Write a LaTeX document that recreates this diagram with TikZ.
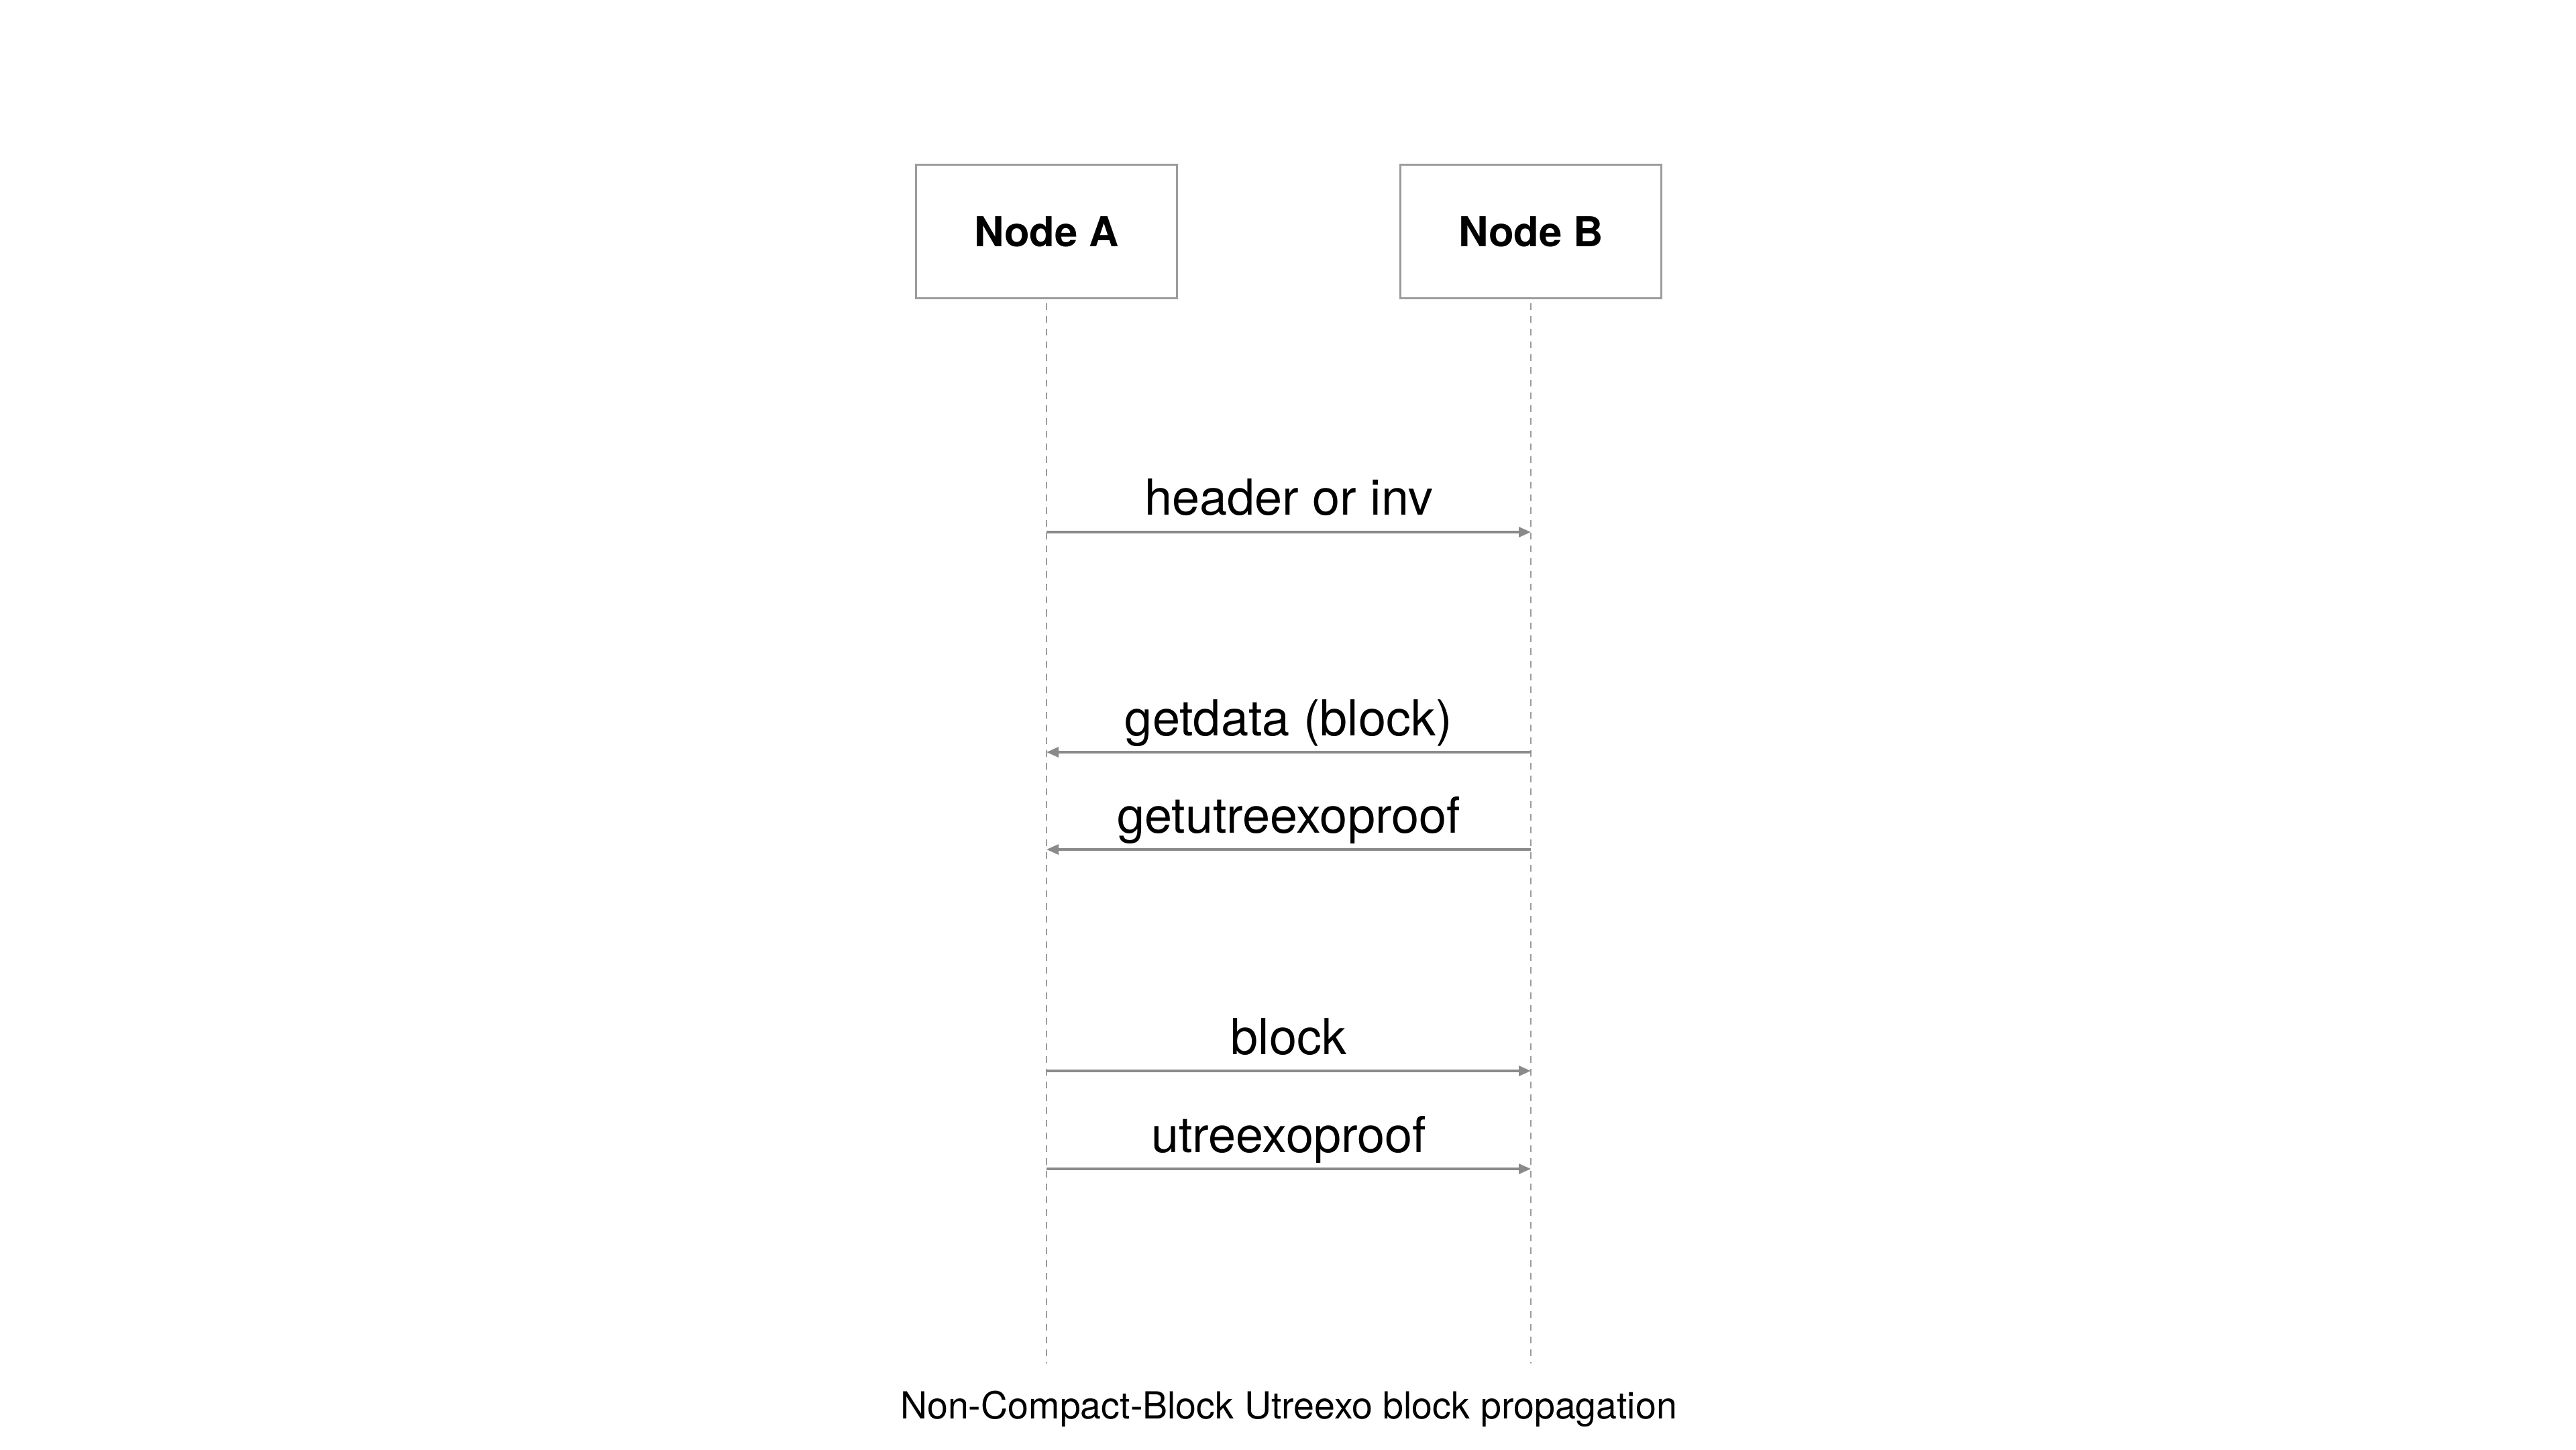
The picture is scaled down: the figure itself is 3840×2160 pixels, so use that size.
\documentclass[tikz,border=0pt]{standalone}
\usepackage{fontspec}
\setmainfont{TeX Gyre Heros}
\usetikzlibrary{arrows.meta}

\definecolor{boxgray}{HTML}{9C9C9C}
\definecolor{msggray}{HTML}{8A8A8A}

\begin{document}
\begin{tikzpicture}[x=0.01cm, y=-0.01cm,
    peer/.style={draw=boxgray, line width=0.033cm, minimum width=3.89cm, minimum height=1.99cm, font=\fontsize{17.5}{21}\selectfont\bfseries},
    life/.style={draw=boxgray, line width=0.022cm, dash pattern=on 0.1cm off 0.09cm},
    msg/.style={draw=msggray, line width=0.032cm, -{Triangle[length=0.18cm, width=0.15cm]}},
    msglabel/.style={anchor=base, yshift=0.25cm, font=\fontsize{21}{25}\selectfont}]
    \useasboundingbox (0,0) rectangle (3840,2160);

    % Parameters
    \def\xA{1560}
    \def\xB{2282}
    \def\ybox{345}
    \def\yend{2032}

    % Peers
    \node[peer] (A) at (\xA, \ybox) {Node A};
    \node[peer] (B) at (\xB, \ybox) {Node B};

    % Lifelines
    \coordinate (endA) at (\xA, \yend);
    \coordinate (endB) at (\xB, \yend);
    \draw[life] ([yshift=-0.06cm]A.south) -- (endA);
    \draw[life] ([yshift=-0.06cm]B.south) -- (endB);

    % Messages
    \foreach \y/\from/\to/\txt in {793/a/b/header or inv, 1121/b/a/getdata (block), 1266/b/a/getutreexoproof, 1596/a/b/block, 1742/a/b/utreexoproof} {
        \coordinate (a\y) at (\xA, \y);
        \coordinate (b\y) at (\xB, \y);
        \draw[msg] (\from\y) -- (\to\y) node[midway, msglabel] (m\y) {\txt};
    }

    % Caption
    \node[anchor=base, font=\fontsize{15.8}{19}\selectfont] (caption) at (1921, 2114) {Non-Compact-Block Utreexo block propagation};
\end{tikzpicture}
\end{document}
